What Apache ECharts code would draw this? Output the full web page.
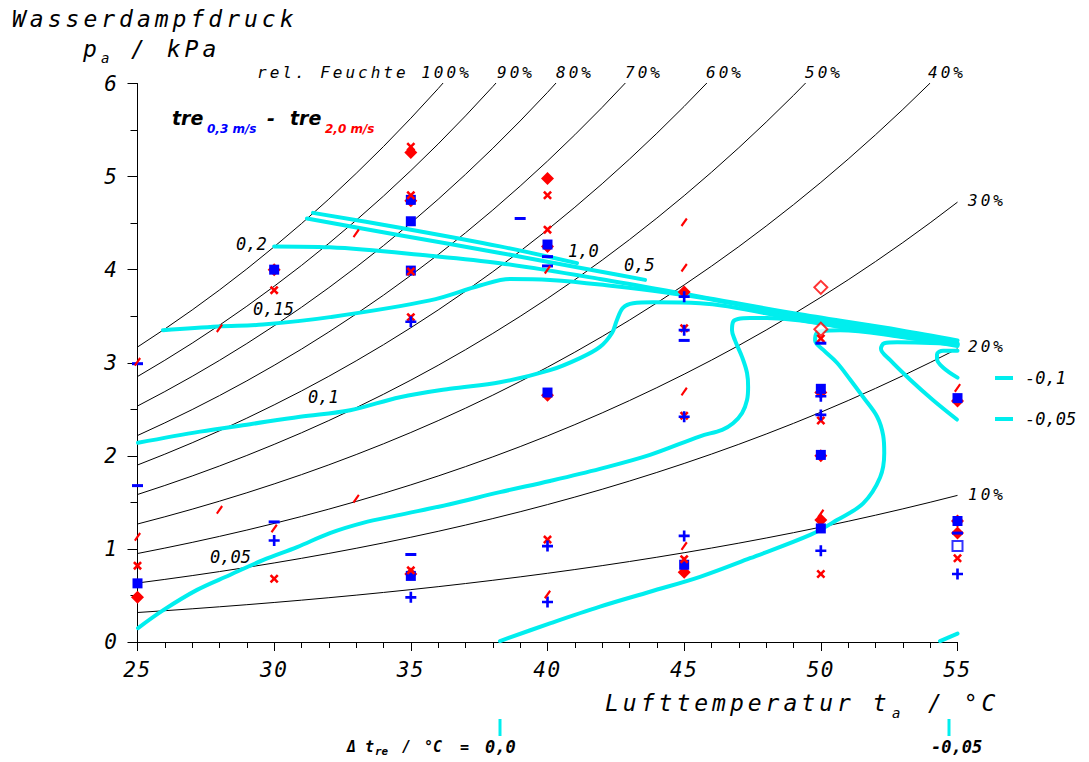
<!DOCTYPE html>
<html>
<head>
<meta charset="utf-8">
<title>Wasserdampfdruck – Lufttemperatur</title>
<script src="https://cdn.jsdelivr.net/npm/echarts@6/dist/echarts.min.js"></script>
<style>
  html, body { margin: 0; padding: 0; background: #fff; }
  #chart { width: 1089px; height: 762px; }
  /* plotter-style lettering: wide character pitch for the drawn texts */
  #chart text[style*="23px"] { letter-spacing: 4px; }
  #chart text[style*="21px"] { letter-spacing: 1.5px; }
  #chart text[style*="16px"] { letter-spacing: 3px; }
</style>
</head>
<body>
<div id="chart"></div>
<script>
// ---- saturation vapour pressure of water (kPa) at 1 °C steps ----
const tempC = [25, 26, 27, 28, 29, 30, 31, 32, 33, 34, 35, 36, 37, 38, 39, 40,
               41, 42, 43, 44, 45, 46, 47, 48, 49, 50, 51, 52, 53, 54, 55];
const satPressure = [3.169, 3.363, 3.567, 3.782, 4.008, 4.246, 4.495, 4.758, 5.034, 5.323,
                     5.627, 5.945, 6.280, 6.630, 6.997, 7.381, 7.784, 8.205, 8.646, 9.108,
                     9.590, 10.094, 10.620, 11.171, 11.745, 12.344, 12.970, 13.623, 14.303,
                     15.012, 15.752];
// relative humidity lines (%)
const rhLevels = [100, 90, 80, 70, 60, 50, 40, 30, 20, 10];

// ---- iso-lines of t_re(0,3 m/s) - t_re(2,0 m/s), [°C, kPa] ----
const iso_1_0 = [[31.42, 4.61], [34.60, 4.45], [38.26, 4.25], [41.08, 4.07]];
const iso_0_5 = [[31.20, 4.55], [34.60, 4.37], [38.26, 4.18], [41.92, 3.98], [43.57, 3.89]];
const iso_0_2 = [[30.00, 4.25], [32.04, 4.24], [35.70, 4.15], [38.26, 4.07], [41.92, 3.90],
                 [45.58, 3.71], [49.24, 3.52], [52.90, 3.35], [55.00, 3.24]];
const iso_0_15 = [[25.93, 3.35], [27.95, 3.39], [29.59, 3.41], [32.04, 3.49], [35.70, 3.67],
                  [37.53, 3.83], [38.63, 3.90], [40.09, 3.89], [41.92, 3.84], [45.58, 3.70],
                  [49.24, 3.49], [52.90, 3.32], [55.00, 3.21]];
const iso_0_1 = [[25.02, 2.14], [27.29, 2.26], [29.12, 2.34], [30.95, 2.42], [32.78, 2.49],
                 [34.60, 2.63], [36.43, 2.72], [38.26, 2.79], [40.09, 2.92], [41.19, 3.05],
                 [41.92, 3.17], [42.36, 3.32], [42.54, 3.46], [42.76, 3.59], [43.13, 3.64],
                 [43.86, 3.65], [45.58, 3.64], [49.24, 3.46], [52.90, 3.29], [55.00, 3.20]];
const iso_0_05 = [[25.02, 0.15], [25.93, 0.34], [27.18, 0.56], [28.38, 0.72], [29.59, 0.88],
                  [30.84, 1.02], [32.04, 1.17], [33.25, 1.28], [34.50, 1.36], [36.43, 1.48],
                  [38.26, 1.61], [40.09, 1.73], [41.92, 1.86], [43.75, 2.01], [45.58, 2.21],
                  [46.39, 2.28], [46.79, 2.35], [47.12, 2.46], [47.30, 2.60], [47.34, 2.74],
                  [47.30, 2.89], [47.12, 3.06], [46.86, 3.24], [46.75, 3.35], [46.79, 3.44],
                  [46.97, 3.47], [47.41, 3.48], [48.03, 3.48], [51.07, 3.37], [55.00, 3.18]];
const iso_0_0 = [[38.26, 0.01], [40.09, 0.20], [41.92, 0.38], [43.75, 0.54], [45.58, 0.70],
                 [47.41, 0.90], [49.61, 1.15], [50.59, 1.31], [51.55, 1.49], [52.17, 1.77],
                 [52.32, 2.03], [52.28, 2.22], [52.06, 2.42], [51.55, 2.63], [51.07, 2.82],
                 [50.59, 3.00], [50.08, 3.14], [49.79, 3.24], [49.83, 3.31], [50.05, 3.34],
                 [50.71, 3.35], [52.90, 3.28], [55.00, 3.19]];
const iso_m0_05 = [[54.98, 2.39], [54.10, 2.60], [53.26, 2.82], [52.53, 3.03], [52.20, 3.15],
                   [52.32, 3.21], [52.79, 3.22], [55.00, 3.20]];
const iso_m0_05_low = [[54.36, 0.01], [55.00, 0.09]];
const iso_m0_1 = [[55.00, 2.84], [54.47, 2.95], [54.25, 3.04], [54.25, 3.09], [54.47, 3.13],
                  [55.00, 3.13]];

// ---- measured points, [°C, kPa] ----
const blueSquares = [[25, 0.63], [30, 4.00], [35, 4.75], [35, 4.52], [35, 3.99], [35, 0.71],
                     [40, 4.27], [40, 2.68], [45, 0.83], [50, 2.72], [50, 2.01], [50, 1.22],
                     [55, 1.30], [55, 2.62]];
const blueOpenSquares = [[55, 1.03]];
const bluePluses = [[30, 1.09], [35, 3.44], [35, 0.48], [40, 1.03], [40, 0.43], [45, 3.71],
                    [45, 3.35], [45, 2.42], [45, 1.14], [50, 2.64], [50, 2.44], [50, 0.98],
                    [55, 0.73]];
const blueDashes = [[25, 1.68], [25, 2.99], [30, 1.29], [35, 0.94], [39, 4.55], [40, 4.14],
                    [40, 4.04], [45, 3.24], [50, 3.21], [55, 1.17]];
const redCrosses = [[25, 0.82], [30, 0.68], [30, 3.78], [35, 5.32], [35, 4.80], [35, 3.98],
                    [35, 3.49], [35, 0.77], [40, 4.80], [40, 4.43], [40, 1.10], [45, 3.37],
                    [45, 2.43], [45, 0.89], [50, 3.26], [50, 2.38], [50, 0.73], [55, 0.90]];
const redDiamonds = [[25, 0.48], [30, 4.00], [35, 5.26], [35, 4.74], [35, 0.73], [40, 4.98],
                     [40, 4.25], [40, 2.65], [45, 3.76], [45, 0.75], [50, 2.68], [50, 2.00],
                     [50, 1.31], [55, 2.59], [55, 1.30], [55, 1.17]];
const redOpenDiamonds = [[50, 3.81], [50, 3.36]];
const redSlashes = [[25, 3.01], [25, 1.13], [28, 3.37], [28, 1.42], [30, 1.22], [33, 4.39],
                    [33, 1.54], [40, 4.00], [40, 0.51], [45, 4.51], [45, 4.02], [45, 2.69],
                    [45, 1.03], [50, 1.38], [55, 2.73]];

// ---- styling ----
const CYAN = '#00eeee';
const BLUE = '#0000ff';
const RED = '#ff0000';
const MONO = '"DejaVu Sans Mono"';
const SANS = '"DejaVu Sans"';
const CROSS = 'path://M0,2L2,0L5,3L8,0L10,2L7,5L10,8L8,10L5,7L2,10L0,8L3,5Z';
const PLUS = 'path://M3.8,0H6.2V3.8H10V6.2H6.2V10H3.8V6.2H0V3.8H3.8Z';
const SLASH = 'path://M7.6,0L10,1.6L2.4,10L0,8.4Z';

function rhSeries(rh) {
  return {
    type: 'line', name: rh + '%', silent: true, z: 2,
    data: tempC.map((t, i) => [t, rh / 100 * satPressure[i]]),
    showSymbol: false, symbol: 'none', smooth: false,
    lineStyle: { color: '#000', width: 1 }
  };
}
function isoSeries(name, data) {
  return {
    type: 'line', name: name, silent: true, z: 3, data: data,
    showSymbol: false, symbol: 'none', smooth: 0.35,
    lineStyle: { color: CYAN, width: 4, cap: 'round', join: 'round' }
  };
}
function markSeries(name, data, symbol, size, color, extra) {
  return Object.assign({
    type: 'scatter', name: name, silent: true, z: 4, data: data,
    symbol: symbol, symbolSize: size,
    itemStyle: { color: color, opacity: 1 }
  }, extra || {});
}
function label(text, x, y, font, fill, align) {
  return {
    type: 'text', x: x, y: y, silent: true, z: 10,
    style: {
      text: text, font: font, fill: fill || '#000',
      textAlign: align || 'left', textVerticalAlign: 'middle', verticalAlign: 'middle'
    }
  };
}
function stroke(x1, y1, x2, y2, w) {
  return {
    type: 'line', silent: true, z: 10,
    shape: { x1: x1, y1: y1, x2: x2, y2: y2 },
    style: { stroke: CYAN, lineWidth: w, lineCap: 'butt' }
  };
}

const bigFont = 'italic 23px ' + MONO;
const subFont = 'italic 14px ' + MONO;
const rhFont = 'italic 16px ' + MONO;
const isoFont = 'italic 17px ' + MONO;

const graphics = [
  // axis titles
  label('Wasserdampfdruck', 12, 19, bigFont),
  label('p', 83, 49, bigFont),
  label('a', 101, 58, subFont),
  label('/ kPa', 131, 49, bigFont),
  label('Lufttemperatur t', 605, 703, bigFont),
  label('a', 892, 713, subFont),
  label('/ °C', 928, 703, bigFont),
  // relative humidity labels
  label('rel. Feuchte 100%', 257, 72, rhFont),
  label('90%', 497, 72, rhFont),
  label('80%', 556, 72, rhFont),
  label('70%', 625, 72, rhFont),
  label('60%', 706, 72, rhFont),
  label('50%', 805, 72, rhFont),
  label('40%', 928, 72, rhFont),
  label('30%', 968, 200, rhFont),
  label('20%', 968, 346, rhFont),
  label('10%', 968, 494, rhFont),
  // iso-line labels
  label('0,2', 236, 244, isoFont),
  label('0,15', 253, 309, isoFont),
  label('0,1', 308, 397, isoFont),
  label('0,05', 210, 557, isoFont),
  label('1,0', 568, 251, isoFont),
  label('0,5', 624, 265, isoFont),
  // legend of the lines leaving the right edge
  stroke(995, 378, 1013, 378, 4),
  label('-0,1', 1025, 378, isoFont),
  stroke(995, 419, 1013, 419, 4),
  label('-0,05', 1025, 419, isoFont),
  // lines crossing the bottom edge
  stroke(500, 719, 500, 736, 3),
  stroke(949, 719, 949, 736, 3),
  label('Δ t', 347, 747, 'bold italic 15px ' + MONO),
  label('re', 375, 751, 'bold italic 11px ' + MONO),
  label('/', 402, 747, 'bold italic 15px ' + MONO),
  label('°C', 424, 747, 'bold italic 15px ' + MONO),
  label('=', 460, 747, 'bold italic 15px ' + MONO),
  label('0,0', 485, 747, 'bold italic 17px ' + MONO),
  label('-0,05', 931, 747, 'bold italic 17px ' + MONO),
  // difference key
  label('tre', 172, 118, 'bold italic 19px ' + SANS),
  label('0,3 m/s', 207, 129, 'bold italic 12px ' + SANS, BLUE),
  label('-', 267, 118, 'bold italic 19px ' + SANS),
  label('tre', 290, 118, 'bold italic 19px ' + SANS),
  label('2,0 m/s', 325, 129, 'bold italic 12px ' + SANS, RED)
];

const axisLabelStyle = {
  color: '#000', fontSize: 21, fontStyle: 'italic', fontFamily: 'DejaVu Sans Mono'
};

const option = {
  animation: false,
  backgroundColor: '#fff',
  grid: { left: 137.5, right: 131.5, top: 83.5, bottom: 120, containLabel: false },
  xAxis: {
    type: 'value', min: 25, max: 55, interval: 5,
    axisLine: { show: true, onZero: false, lineStyle: { color: '#000', width: 1 } },
    axisTick: { show: true, inside: false, length: 9, lineStyle: { color: '#000', width: 1 } },
    minorTick: { show: true, splitNumber: 5, length: 6, lineStyle: { color: '#000', width: 1 } },
    splitLine: { show: false },
    axisLabel: Object.assign({ margin: 17 }, axisLabelStyle)
  },
  yAxis: {
    type: 'value', min: 0, max: 6, interval: 1,
    axisLine: { show: true, onZero: false, lineStyle: { color: '#000', width: 1 } },
    axisTick: { show: true, inside: false, length: 10, lineStyle: { color: '#000', width: 1 } },
    minorTick: { show: true, splitNumber: 2, length: 7, lineStyle: { color: '#000', width: 1 } },
    splitLine: { show: false },
    axisLabel: Object.assign({ margin: 19 }, axisLabelStyle)
  },
  series: [].concat(
    rhLevels.map(rhSeries),
    [
      markSeries('rot Raute', redDiamonds, 'diamond', 13, RED),
      markSeries('blau Quadrat', blueSquares, 'rect', 10, BLUE),
      markSeries('blau Quadrat offen', blueOpenSquares, 'emptyRect', 10, BLUE,
        { itemStyle: { color: BLUE, borderColor: BLUE, borderWidth: 2.5 } }),
      markSeries('rot Raute offen', redOpenDiamonds, 'emptyDiamond', 13, RED,
        { itemStyle: { color: RED, borderColor: RED, borderWidth: 2.5 } }),
      markSeries('rot Kreuz', redCrosses, CROSS, 9, RED),
      markSeries('blau Plus', bluePluses, PLUS, 11, BLUE),
      markSeries('blau Strich', blueDashes, 'rect', [11, 3], BLUE),
      markSeries('rot Schraeg', redSlashes, SLASH, [7, 9], RED)
    ],
    [
      isoSeries('1,0', iso_1_0),
      isoSeries('0,5', iso_0_5),
      isoSeries('0,2', iso_0_2),
      isoSeries('0,15', iso_0_15),
      isoSeries('0,1', iso_0_1),
      isoSeries('0,05', iso_0_05),
      isoSeries('0,0', iso_0_0),
      isoSeries('-0,05', iso_m0_05),
      isoSeries('-0,05 unten', iso_m0_05_low),
      isoSeries('-0,1', iso_m0_1)
    ]
  ),
  graphic: graphics
};

const chart = echarts.init(document.getElementById('chart'), null, { renderer: 'svg' });
chart.setOption(option);
</script>
</body>
</html>
